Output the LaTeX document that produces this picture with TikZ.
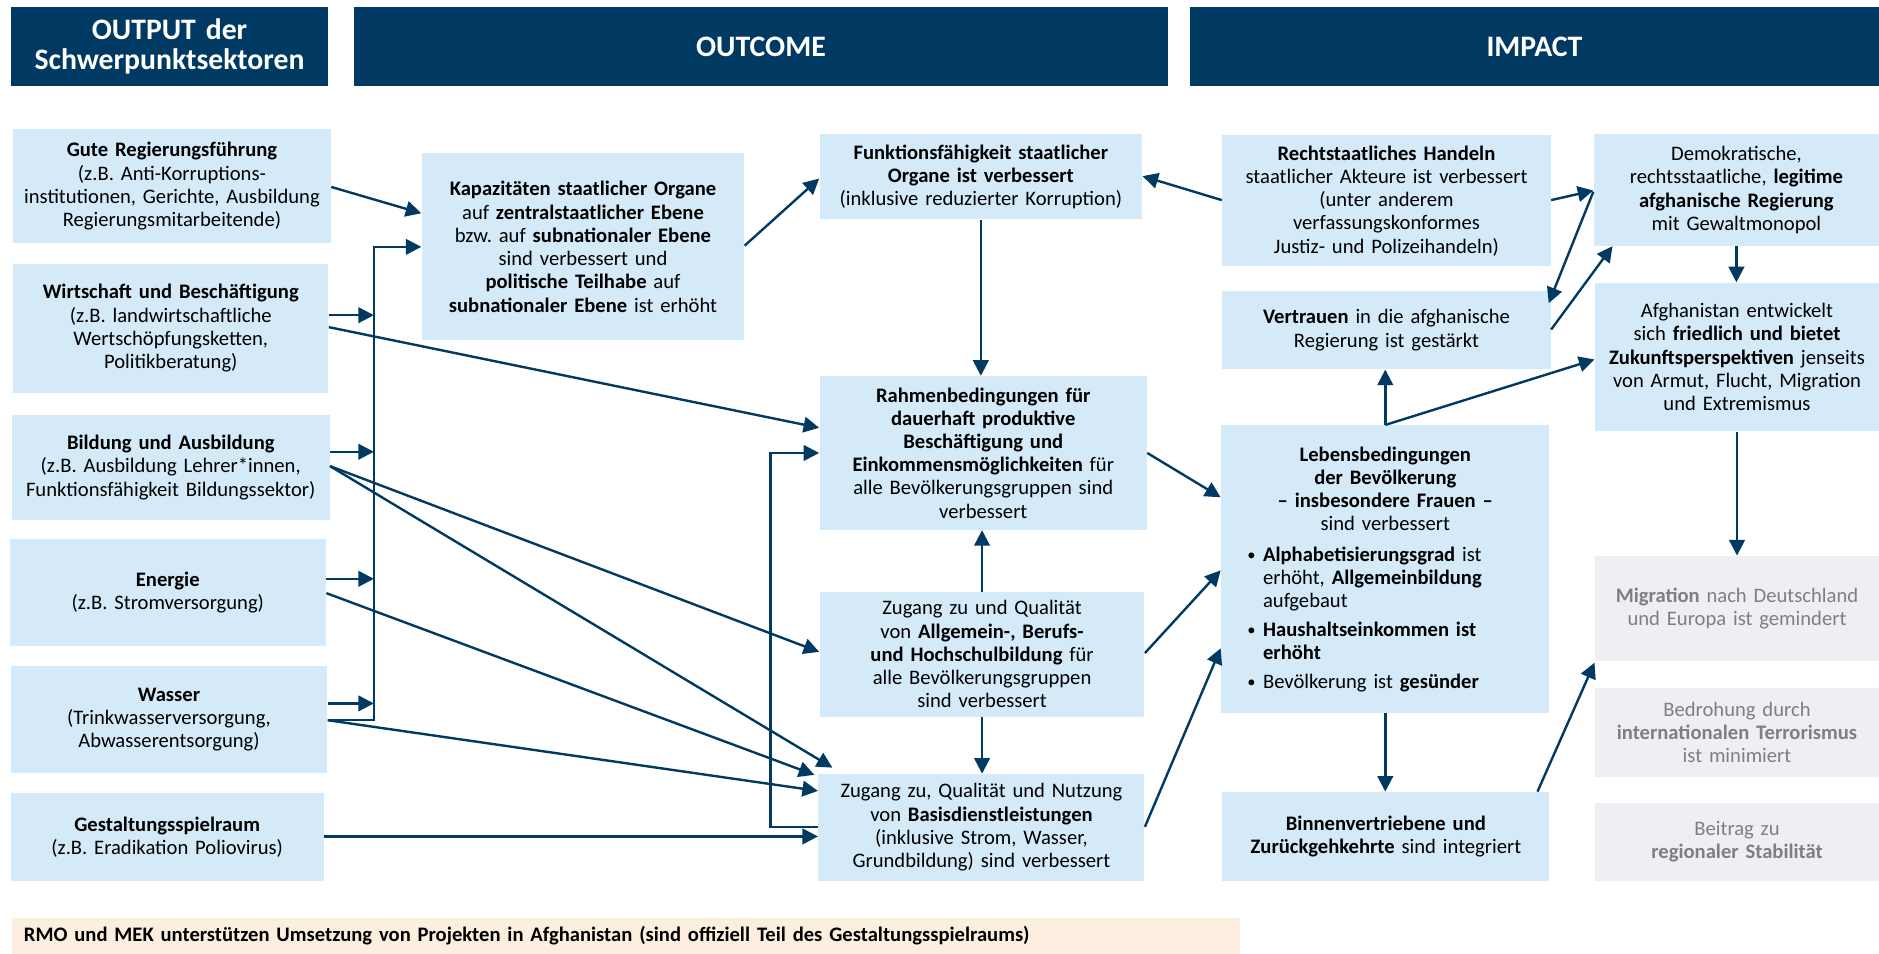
\documentclass[tikz,border=0pt]{standalone}
\usepackage{fontspec}
\setmainfont{Carlito}
\usetikzlibrary{arrows.meta}
\definecolor{hdrblue}{RGB}{0,58,99}
\definecolor{lblue}{RGB}{212,234,249}
\definecolor{lgrey}{RGB}{238,239,243}
\definecolor{gtext}{RGB}{127,127,127}
\definecolor{peach}{RGB}{252,239,223}
\newcommand\mkbox[6]{\pgfmathsetmacro\mkbw{(#5-#3)*0.5}\pgfmathsetmacro\mkbh{(#6-#4)*0.5}\pgfmathsetmacro\mkbt{\mkbw-2}\node[#1, minimum width=\mkbw pt, minimum height=\mkbh pt, text width=\mkbt pt] (#2) at ({(#3+#5)/2},{(#4+#6)/2})}
\newcommand\bul[1]{\par\hangindent=16.5pt\hangafter=1\noindent\hspace*{10pt}\makebox[6.5pt][l]{\raisebox{0.2pt}{\scalebox{0.8}{•}}}#1\par}
\tikzset{
  base/.style={inner xsep=1pt, inner ysep=0pt, align=center, font=\fontsize{8.6}{9.7}\selectfont},
  hdr/.style={base, fill=hdrblue, text=white, font=\fontsize{12.4}{13.5}\selectfont\bfseries},
  box/.style={base, fill=lblue, text=black},
  gbox/.style={base, fill=lgrey, text=gtext},
  banner/.style={base, fill=peach, align=left, font=\fontsize{8.6}{9.7}\selectfont\bfseries},
  arr/.style={draw=hdrblue, line width=1pt, -{Triangle[length=6.5pt,width=6.5pt]}},
}
\begin{document}
\begin{tikzpicture}[x=0.5pt,y=-0.5pt]
\useasboundingbox (0,0) rectangle (1568,796);
% headers
\mkbox{hdr}{H1}{9}{6}{274}{72}{\raisebox{-1pt}{OUTPUT der}\\Schwerpunktsektoren};
\mkbox{hdr}{H2}{295}{6}{975}{72}{OUTCOME};
\mkbox{hdr}{H3}{993}{6}{1568}{72}{IMPACT};
% output column
\mkbox{box}{B1}{11}{108}{276}{203}{\textbf{Gute Regierungsführung}\\(z.B. Anti-Korruptions-\\institutionen, Gerichte, Ausbildung\\Regierungsmitarbeitende)};
\mkbox{box}{B2}{11}{220}{274}{328}{\textbf{Wirtschaft und Beschäftigung}\\(z.B. landwirtschaftliche\\Wertschöpfungsketten,\\Politikberatung)};
\mkbox{box}{B3}{10}{346}{275}{434}{\textbf{Bildung und Ausbildung}\\(z.B. Ausbildung Lehrer*innen,\\Funktionsfähigkeit Bildungssektor)};
\mkbox{box}{B4}{8}{450}{272}{539}{\textbf{Energie}\\(z.B. Stromversorgung)};
\mkbox{box}{B5}{9}{556}{273}{645}{\textbf{Wasser}\\(Trinkwasserversorgung,\\Abwasserentsorgung)};
\mkbox{box}{B6}{9}{662}{270}{735}{\textbf{Gestaltungsspielraum}\\(z.B. Eradikation Poliovirus)};
% outcome
\mkbox{box}{K}{352}{128}{621}{284}{\textbf{Kapazitäten staatlicher Organe}\\auf \textbf{zentralstaatlicher Ebene}\\bzw.\ auf \textbf{subnationaler Ebene}\\sind verbessert und\\\textbf{politische Teilhabe} auf\\\textbf{subnationaler Ebene} ist erhöht};
\mkbox{box}{F}{684}{112}{953}{183}{\textbf{Funktionsfähigkeit staatlicher}\\\textbf{Organe ist verbessert}\\(inklusive reduzierter Korruption)};
\mkbox{box}{R}{684}{314}{957}{442}{\textbf{Rahmenbedingungen für}\\\textbf{dauerhaft produktive}\\\textbf{Beschäftigung und}\\\textbf{Einkommensmöglichkeiten} für\\alle Bevölkerungsgruppen sind\\verbessert};
\mkbox{box}{Z}{684}{494}{955}{598}{Zugang zu und Qualität\\von \textbf{Allgemein-, Berufs-}\\\textbf{und Hochschulbildung} für\\alle Bevölkerungsgruppen\\sind verbessert};
\mkbox{box}{BD}{683}{646}{955}{735}{Zugang zu, Qualität und Nutzung\\von \textbf{Basisdienstleistungen}\\(inklusive Strom, Wasser,\\Grundbildung) sind verbessert};
% impact
\mkbox{box}{RS}{1020}{113}{1294}{222}{\textbf{Rechtstaatliches Handeln}\\staatlicher Akteure ist verbessert\\(unter anderem\\verfassungskonformes\\Justiz- und Polizeihandeln)};
\mkbox{box}{V}{1020}{243}{1294}{308}{\textbf{Vertrauen} in die afghanische\\Regierung ist gestärkt};
\mkbox{box}{L}{1019}{355}{1293}{595}{\textbf{Lebensbedingungen}\\\textbf{der Bevölkerung}\\\textbf{– insbesondere Frauen –}\\sind verbessert\\[5.5pt]
\begin{minipage}{135pt}\raggedright\setlength{\parskip}{2.3pt}%
\bul{\textbf{Alphabetisierungsgrad} ist\newline erhöht, \textbf{Allgemeinbildung}\newline aufgebaut}%
\bul{\textbf{Haushaltseinkommen ist\newline erhöht}}%
\bul{Bevölkerung ist \textbf{gesünder}}%
\end{minipage}};
\mkbox{box}{BV}{1020}{661}{1293}{735}{\textbf{Binnenvertriebene und}\\\textbf{Zurückgehkehrte} sind integriert};
\mkbox{box}{D}{1330}{112}{1568}{205}{Demokratische,\\rechtsstaatliche, \textbf{legitime}\\\textbf{afghanische Regierung}\\mit Gewaltmonopol};
\mkbox{box}{A}{1331}{236}{1568}{360}{Afghanistan entwickelt\\sich \textbf{friedlich und bietet}\\\textbf{Zukunftsperspektiven} jenseits\\von Armut, Flucht, Migration\\und Extremismus};
\mkbox{gbox}{M}{1331}{464}{1568}{552}{\textbf{Migration} nach Deutschland\\und Europa ist gemindert};
\mkbox{gbox}{T}{1331}{574}{1568}{648}{Bedrohung durch\\\textbf{internationalen Terrorismus}\\ist minimiert};
\mkbox{gbox}{S}{1331}{670}{1568}{735}{Beitrag zu\\\textbf{regionaler Stabilität}};
% banner
\mkbox{banner}{RMO}{10}{766}{1035}{796}{\hspace*{4pt}RMO und MEK unterstützen Umsetzung von Projekten in Afghanistan (sind offiziell Teil des Gestaltungsspielraums)};
% bus coordinates
\coordinate (bustop) at (312,206);
\coordinate (busbot) at (312,601);
\coordinate (b2top) at (643,378);
\coordinate (b2bot) at (643,690);
% connectors output -> outcome
\draw[arr] (B1.east |- 0,156) -- (K.west |- 0,178);
\draw[arr] (B5.east |- busbot) -- (busbot) -- (bustop) -- (K.west |- bustop);
\draw[arr] (B2.east |- 0,263) -- (bustop |- 0,263);
\draw[arr] (B3.east |- 0,377) -- (bustop |- 0,377);
\draw[arr] (B4.east |- 0,483) -- (bustop |- 0,483);
\draw[arr] (B5.east |- 0,587) -- (bustop |- 0,587);
\draw[arr] (B2.east |- 0,273) -- (R.west |- 0,357);
\draw[arr] (B3.east |- 0,389) -- (Z.west |- 0,544);
\draw[arr] (B3.east |- 0,389) -- ([xshift=6pt,yshift=2.5pt]BD.north west);
\draw[arr] (B4.east |- 0,495) -- ([xshift=-1.5pt,yshift=-0.5pt]BD.north west);
\draw[arr] (B5.east |- busbot) -- (BD.west |- 0,660);
\draw[arr] (B6.east |- 0,698) -- (BD.west |- 0,698);
\draw[arr] (BD.west |- b2bot) -- (b2bot) -- (b2top) -- (R.west |- b2top);
% outcome internal
\draw[arr] (K.east |- 0,205) -- (F.west |- 0,149);
\draw[arr] (F.south) -- (F.south |- R.north);
\draw[arr] (Z.north) -- (Z.north |- R.south);
\draw[arr] (Z.south) -- (Z.south |- BD.north);
% outcome -> impact
\draw[arr] (R.east |- 0,378) -- (L.west |- 0,415);
\draw[arr] (Z.east |- 0,545) -- (L.west |- 0,476);
\draw[arr] (BD.east |- 0,690) -- (L.west |- 0,541);
\draw[arr] (RS.west |- 0,167) -- (F.east |- 0,147);
% impact
\draw[arr] (RS.east |- 0,167) -- (D.west |- 0,159);
\draw[arr] (D.west |- 0,160) -- ([xshift=-1pt]V.east |- 0,253);
\draw[arr] (V.east |- 0,275) -- ([xshift=8pt]D.south west);
\draw[arr] (L.north) -- (L.north |- V.south);
\draw[arr] (L.north) -- (A.west |- 0,300);
\draw[arr] (D.south) -- (D.south |- A.north);
\draw[arr] (A.south) -- (A.south |- M.north);
\draw[arr] (L.south) -- (L.south |- BV.north);
\draw[arr] (BV.north -| 1283,0) -- (M.west |- 0,553);
\end{tikzpicture}
\end{document}
